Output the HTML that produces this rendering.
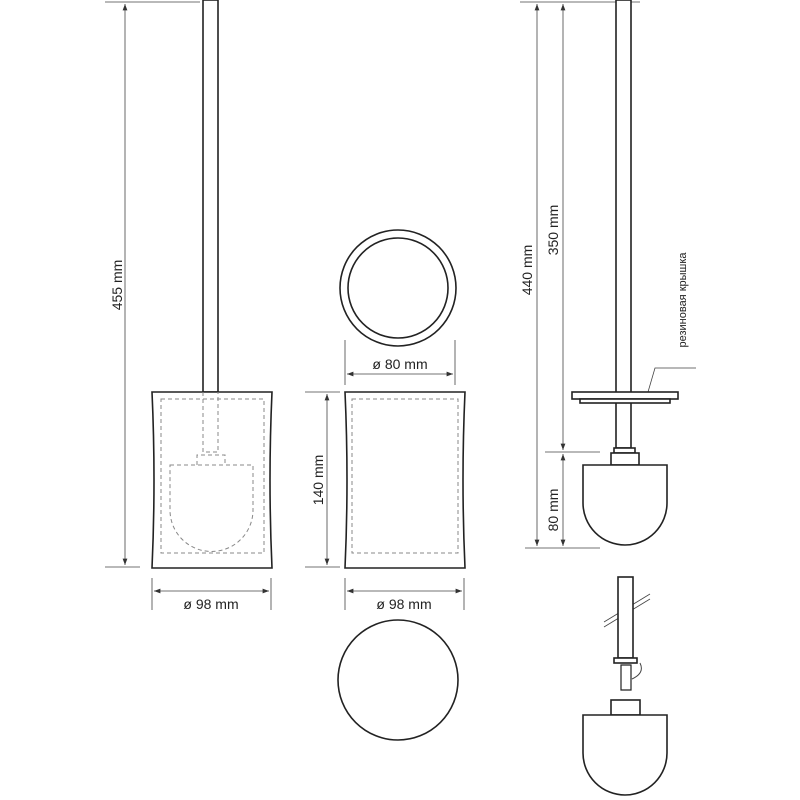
<!DOCTYPE html>
<html><head><meta charset="utf-8"><style>body{margin:0;background:#fff}svg{display:block}text{font-family:"Liberation Sans",sans-serif;font-size:14px;fill:#222}</style></head><body>
<svg width="800" height="800" viewBox="0 0 800 800" xmlns="http://www.w3.org/2000/svg">
<defs><marker id="a" markerWidth="8" markerHeight="6" refX="8" refY="3" orient="auto-start-reverse"><path d="M0,0L8,3L0,6z" fill="#333"/></marker></defs>
<g stroke="#444" stroke-width="0.8" fill="none">
<line x1="105" y1="2" x2="200" y2="2"/><line x1="105" y1="567" x2="140" y2="567"/>
<line x1="125" y1="4" x2="125" y2="565" marker-start="url(#a)" marker-end="url(#a)"/>
<line x1="152" y1="578" x2="152" y2="610"/><line x1="271" y1="578" x2="271" y2="610"/>
<line x1="154" y1="591" x2="269" y2="591" marker-start="url(#a)" marker-end="url(#a)"/>
<line x1="345" y1="340" x2="345" y2="385"/><line x1="455" y1="340" x2="455" y2="385"/>
<line x1="347" y1="374" x2="453" y2="374" marker-start="url(#a)" marker-end="url(#a)"/>
<line x1="305" y1="392" x2="340" y2="392"/><line x1="305" y1="567" x2="340" y2="567"/>
<line x1="327" y1="394" x2="327" y2="565" marker-start="url(#a)" marker-end="url(#a)"/>
<line x1="345" y1="578" x2="345" y2="610"/><line x1="464" y1="578" x2="464" y2="610"/>
<line x1="347" y1="591" x2="462" y2="591" marker-start="url(#a)" marker-end="url(#a)"/>
<line x1="520" y1="2" x2="640" y2="2"/><line x1="545" y1="452" x2="600" y2="452"/><line x1="525" y1="548" x2="600" y2="548"/>
<line x1="537" y1="4" x2="537" y2="546" marker-start="url(#a)" marker-end="url(#a)"/>
<line x1="563" y1="4" x2="563" y2="450" marker-start="url(#a)" marker-end="url(#a)"/>
<line x1="563" y1="454" x2="563" y2="546" marker-start="url(#a)" marker-end="url(#a)"/>
<polyline points="696,368 655,368 648,392"/>
<line x1="604" y1="622" x2="650" y2="594"/><line x1="604" y1="627" x2="650" y2="599"/>
</g>
<g stroke="#222" stroke-width="1.6" fill="#fff">
<rect x="203" y="0" width="15" height="392"/>
<path d="M152,392 L272,392 Q268,480 272,568 L152,568 Q156,480 152,392z"/>
<circle cx="398" cy="288" r="58"/><circle cx="398" cy="288" r="50"/>
<path d="M345,392 L465,392 Q461,480 465,568 L345,568 Q349,480 345,392z"/>
<circle cx="398" cy="680" r="60"/>
<rect x="616" y="0" width="15" height="448"/>
<rect x="572" y="392" width="106" height="7"/><rect x="580" y="399" width="90" height="4"/>
<rect x="614" y="448" width="21" height="5"/><rect x="611" y="453" width="28" height="12"/>
<path d="M583,465 L667,465 L667,503 A42,42 0 0 1 583,503z"/>
<rect x="618" y="577" width="15" height="81"/>
<rect x="614" y="658" width="23" height="5"/>
<path d="M621,665 h10 v25 h-10z" stroke-width="1.2"/>
<rect x="611" y="700" width="29" height="15"/>
<path d="M583,715 L667,715 L667,753 A42,42 0 0 1 583,753z"/>
</g>
<g stroke="#888" stroke-width="1" stroke-dasharray="4,3" fill="none">
<rect x="161" y="399" width="103" height="154"/>
<path d="M203,392 V452 H218 V392"/><path d="M197,465 V455 H225 V465"/>
<path d="M170,465 H253 V510 A41,41 0 0 1 170,510z"/>
<rect x="352" y="399" width="106" height="154"/>
</g>
<path d="M640,663 q5,10 -8,16" stroke="#444" fill="none"/>
<text transform="translate(122,285) rotate(-90)" text-anchor="middle">455 mm</text>
<text x="211" y="609" text-anchor="middle">ø 98 mm</text>
<text x="400" y="369" text-anchor="middle">ø 80 mm</text>
<text transform="translate(323,480) rotate(-90)" text-anchor="middle">140 mm</text>
<text x="404" y="609" text-anchor="middle">ø 98 mm</text>
<text transform="translate(532,270) rotate(-90)" text-anchor="middle">440 mm</text>
<text transform="translate(558,230) rotate(-90)" text-anchor="middle">350 mm</text>
<text transform="translate(558,510) rotate(-90)" text-anchor="middle">80 mm</text>
<text transform="translate(686,300) rotate(-90)" text-anchor="middle" style="font-size:11px">резиновая крышка</text>
</svg>
</body></html>
